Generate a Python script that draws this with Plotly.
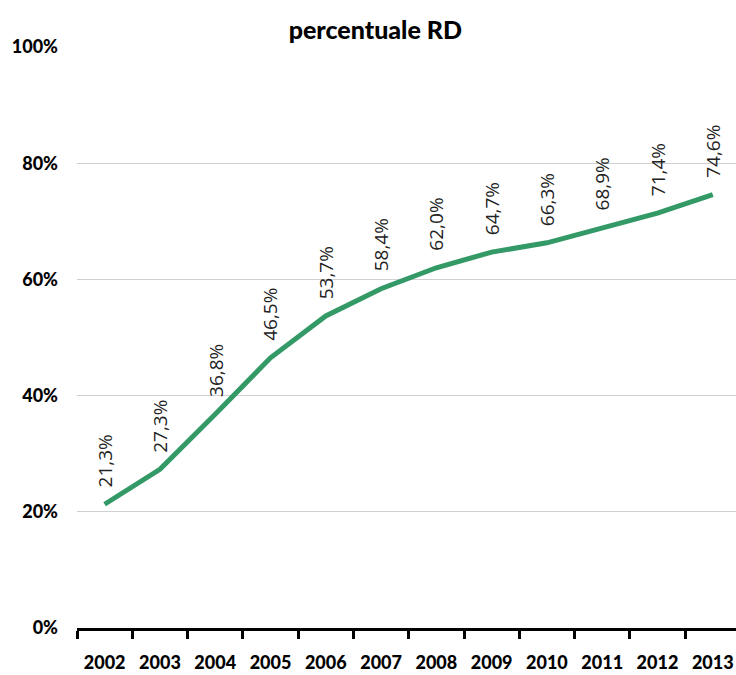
import plotly.graph_objects as go

# Quota percentuale di raccolta differenziata per anno
anni = ["2002", "2003", "2004", "2005", "2006", "2007",
        "2008", "2009", "2010", "2011", "2012", "2013"]
percentuale_rd = [21.3, 27.3, 36.8, 46.5, 53.7, 58.4,
                  62.0, 64.7, 66.3, 68.9, 71.4, 74.6]
etichette = [f"{v:.1f}%".replace(".", ",") for v in percentuale_rd]

fig = go.Figure()
fig.add_trace(go.Scatter(
    x=anni, y=percentuale_rd, mode="lines",
    line=dict(color="#339966", width=5),
    hoverinfo="skip", showlegend=False,
))

# Etichette verticali sopra ogni punto (posizione = indice della categoria)
for i, (val, txt) in enumerate(zip(percentuale_rd, etichette)):
    fig.add_annotation(
        x=i, y=val, xref="x", yref="y", text=txt, textangle=-90,
        showarrow=False, xanchor="center", yanchor="bottom", yshift=15,
        font=dict(family="Open Sans", size=19, color="#222222"),
    )

bold_font = "Lato"

fig.update_layout(
    width=736, height=675,
    margin=dict(l=77, r=0, t=47, b=47),
    paper_bgcolor="white", plot_bgcolor="white",
    title=dict(text="percentuale RD", x=0.51, xref="container",
               y=0.955, yref="container", xanchor="center", yanchor="middle",
               font=dict(family=bold_font, size=25, color="black", weight=900)),
    xaxis=dict(
        type="category", range=[-0.5, 11.42],
        tickson="boundaries", ticks="outside", ticklen=8, tickwidth=3,
        tickcolor="black", showline=True, linecolor="black", linewidth=3,
        showgrid=False, ticklabelstandoff=16,
        tickfont=dict(family=bold_font, size=18, color="black", weight=900),
    ),
    yaxis=dict(
        range=[0, 100], tickvals=[0, 20, 40, 60, 80, 100],
        ticktext=["0%", "20%", "40%", "60%", "80%", "100%"],
        showgrid=True, gridcolor="#d0d0d0", gridwidth=1,
        zeroline=False, showline=False, ticks="", ticklabelstandoff=18,
        tickfont=dict(family=bold_font, size=18, color="black", weight=900),
    ),
)

fig.write_html("out.html")
